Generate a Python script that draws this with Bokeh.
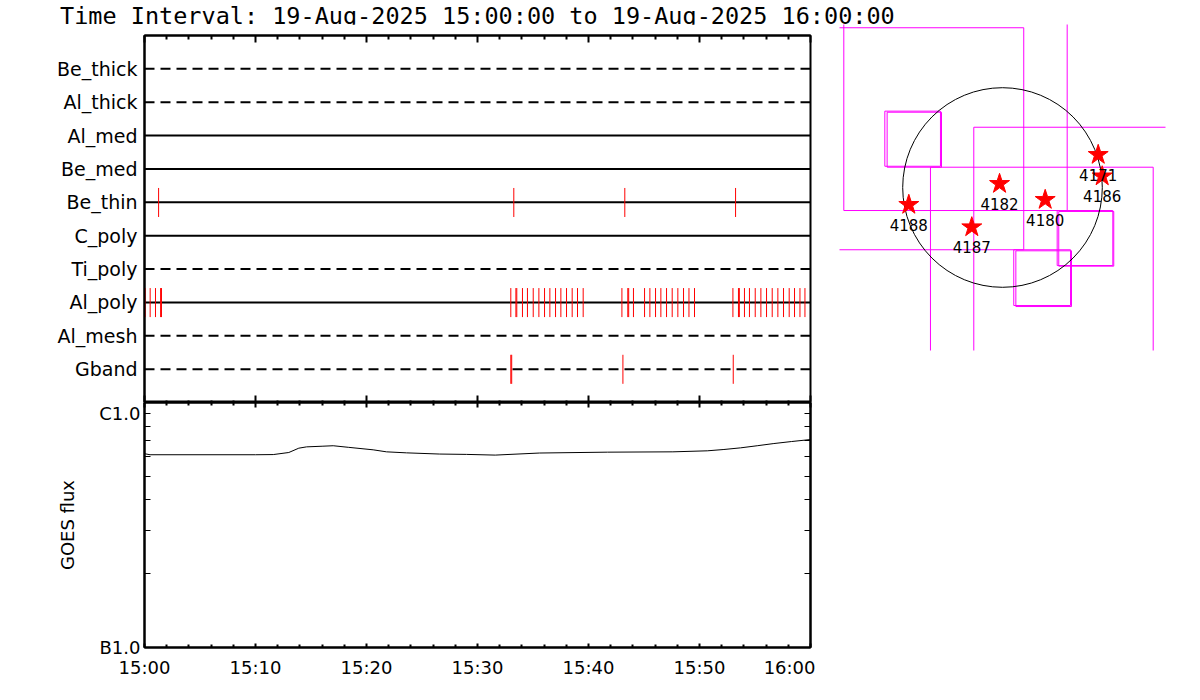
from bokeh.plotting import figure
from bokeh.models import (Range1d, FixedTicker, LinearAxis, LogAxis, Div,
                          CustomLabelingPolicy)
from bokeh.layouts import row, column
from bokeh.embed import file_html
from bokeh.resources import INLINE
from bokeh.core.properties import value

FONT = "DejaVu Sans"
TITLE_FONT = "DejaVu Sans Mono"

# ---------------- data ----------------
title_text = "Time Interval: 19-Aug-2025 15:00:00 to 19-Aug-2025 16:00:00"

filters = ["Be_thick", "Al_thick", "Al_med", "Be_med", "Be_thin",
           "C_poly", "Ti_poly", "Al_poly", "Al_mesh", "Gband"]
dashed_filters = ["Be_thick", "Al_thick", "Ti_poly", "Al_mesh", "Gband"]

# exposure times, minutes after 15:00
be_thin_times = [1.27, 33.27, 43.27, 53.25]
al_poly_times = [0.06, 0.51, 0.99, 1.45, 1.53,
                 33.0, 33.46, 33.54, 34.05, 34.5, 35.02, 35.53, 36.04, 36.52,
                 37.03, 37.51, 38.02, 38.53, 39.01, 39.52,
                 43.01, 43.54, 43.62, 44.05, 45.05, 45.53, 46.04, 46.52, 47.03,
                 47.54, 48.05, 48.56, 49.05, 49.55,
                 53.01, 53.51, 53.59, 54.05, 54.5, 55.02, 55.53, 56.04, 56.55,
                 57.06, 57.57, 58.08, 58.56, 59.05, 59.5]
gband_times = [33.0, 33.08, 43.1, 53.04]

tick_minutes = [0, 10, 20, 30, 40, 50, 60]
tick_labels = ["15:00", "15:10", "15:20", "15:30", "15:40", "15:50", "16:00"]
minor_minutes = [m for m in range(0, 61, 2) if m % 10 != 0]

goes_minutes = [0, 0.5, 5, 10, 11.6, 13.0, 13.9, 14.6, 16.0, 17.0, 18.4, 20.6,
                21.8, 23.6, 26.6, 29.0, 31.6, 35.6, 41.7, 47.6, 50.7, 52.2,
                53.7, 55.2, 56.7, 58.3, 60]
goes_flux = [6.18e-7, 6.12e-7, 6.12e-7, 6.12e-7, 6.13e-7, 6.25e-7, 6.51e-7,
             6.59e-7, 6.63e-7, 6.66e-7, 6.56e-7, 6.41e-7, 6.29e-7, 6.23e-7,
             6.16e-7, 6.14e-7, 6.10e-7, 6.22e-7, 6.27e-7, 6.29e-7, 6.35e-7,
             6.43e-7, 6.53e-7, 6.66e-7, 6.80e-7, 6.93e-7, 7.06e-7]
goes_ticks = [1e-7, 1e-6]
goes_tick_labels = ["B1.0", "C1.0"]
goes_minor = [2e-7, 3e-7, 4e-7, 5e-7, 6e-7, 7e-7, 8e-7, 9e-7]

# solar map (arcsec)
sun_radius = 949
region_names = ["4188", "4187", "4182", "4180", "4171", "4186"]
region_x = [-891, -292, -28, 406, 910, 948]
region_y = [-164, -377, 35, -117, 311, 107]

fov_left = [-2500, -1509, -273, -685, -1119, -1097, 107, 127, 520, 535]
fov_right = [202, 615, 2500, 1433, -590, -580, 647, 656, 1049, 1058]
fov_bottom = [-592, -219, -2500, -2500, 202, 193, -1122, -1132, -742, -748]
fov_top = [1519, 2500, 573, 193, 726, 716, -592, -602, -219, -228]


def no_labels(ax):
    ax.major_label_policy = CustomLabelingPolicy(code="return []")
    ax.major_label_text_font_size = "1px"
    ax.major_label_text_color = None
    ax.major_label_standoff = 0
    return ax


# ---------------- title ----------------
title = Div(text=title_text, width=1180, height=24, margin=0,
            styles={"font-family": TITLE_FONT, "font-size": "23.5px",
                    "line-height": "32px", "padding-left": "60px",
                    "white-space": "nowrap", "color": "black"})

# ---------------- top panel: filter timeline ----------------
n = len(filters)
row_y = {f: n - i for i, f in enumerate(filters)}

p1 = figure(frame_width=666, frame_height=367,
            x_range=Range1d(0, 60), y_range=Range1d(0, n + 1),
            output_backend="svg", toolbar_location=None,
            x_axis_location=None, y_axis_location=None,
            min_border_left=144, min_border_right=5,
            min_border_top=11, min_border_bottom=0)
p1.grid.visible = False
p1.outline_line_color = "black"
p1.outline_line_width = 2

for f in filters:
    p1.segment(x0=[0], x1=[60], y0=[row_y[f]], y1=[row_y[f]],
               line_color="black", line_width=2,
               line_dash="10 6" if f in dashed_filters else "solid")

for f, times in (("Be_thin", be_thin_times), ("Al_poly", al_poly_times),
                 ("Gband", gband_times)):
    y = row_y[f]
    p1.segment(x0=times, x1=times, y0=[y - 0.44] * len(times),
               y1=[y + 0.43] * len(times), line_color="red", line_width=1)

yax = LinearAxis(ticker=FixedTicker(ticks=[row_y[f] for f in filters]),
                 major_label_overrides={row_y[f]: f for f in filters},
                 major_tick_in=0, major_tick_out=0, minor_tick_in=0, minor_tick_out=0,
                 axis_line_width=2, major_label_standoff=7,
                 major_label_text_font=FONT, major_label_text_font_size="19px",
                 major_label_text_color="black")
p1.add_layout(yax, "left")


def time_axis(tick_in, minor_in, labels):
    ax = LinearAxis(ticker=FixedTicker(ticks=tick_minutes, minor_ticks=minor_minutes),
                    major_tick_in=tick_in, major_tick_out=0,
                    minor_tick_in=minor_in, minor_tick_out=0,
                    major_tick_line_width=2, minor_tick_line_width=2,
                    axis_line_width=2)
    if labels:
        ax.major_label_overrides = {m: s for m, s in zip(tick_minutes, tick_labels)}
        ax.major_label_text_font = FONT
        ax.major_label_text_font_size = "18px"
        ax.major_label_text_color = "black"
        ax.major_label_standoff = 9
    else:
        no_labels(ax)
    return ax


p1.add_layout(time_axis(7, 4, False), "above")
p1.add_layout(time_axis(7, 2, False), "below")

# ---------------- GOES panel ----------------
p2 = figure(frame_width=666, frame_height=245,
            x_range=Range1d(0, 60), y_range=Range1d(1e-7, 1e-6),
            y_axis_type="log",
            output_backend="svg", toolbar_location=None,
            x_axis_location=None, y_axis_location=None,
            min_border_left=144, min_border_right=5,
            min_border_top=0, min_border_bottom=40)
p2.grid.visible = False
p2.outline_line_color = "black"
p2.outline_line_width = 2

p2.line(goes_minutes, goes_flux, line_color="black", line_width=1)

lax = LogAxis(ticker=FixedTicker(ticks=goes_ticks, minor_ticks=goes_minor),
              major_label_overrides={v: s for v, s in zip(goes_ticks, goes_tick_labels)},
              major_tick_in=6, major_tick_out=0, minor_tick_in=6, minor_tick_out=0,
              axis_line_width=2, major_label_standoff=4,
              major_label_text_font=FONT, major_label_text_font_size="18px",
              major_label_text_color="black",
              axis_label="GOES flux", axis_label_text_font=FONT,
              axis_label_text_font_size="18px", axis_label_text_font_style="normal",
              axis_label_standoff=18, axis_label_text_color="black")
p2.add_layout(lax, "left")
rax = no_labels(LogAxis(ticker=FixedTicker(ticks=goes_ticks, minor_ticks=goes_minor),
                        major_tick_in=6, major_tick_out=0, minor_tick_in=6,
                        minor_tick_out=0, axis_line_width=2))
p2.add_layout(rax, "right")
p2.add_layout(time_axis(5, 3, False), "above")
p2.add_layout(time_axis(4, 3, True), "below")

# ---------------- solar map ----------------
p3 = figure(frame_width=326, frame_height=326,
            x_range=Range1d(-1550, 1550), y_range=Range1d(-1550, 1550),
            output_backend="svg", toolbar_location=None,
            x_axis_location=None, y_axis_location=None,
            min_border_left=24, min_border_right=5,
            min_border_top=0, min_border_bottom=5)
p3.grid.visible = False
p3.outline_line_color = None

p3.quad(left=fov_left, right=fov_right, bottom=fov_bottom, top=fov_top,
        fill_color=None, line_color="#ff00ff", line_width=1)
p3.circle(x=[0], y=[0], radius=sun_radius, fill_color=None,
          line_color="black", line_width=1)
p3.scatter(region_x, region_y, marker="star", size=21,
           fill_color="red", line_color="red")
p3.text(region_x, region_y, text=region_names, y_offset=20,
        text_align="center", text_baseline="middle",
        text_font=value(FONT), text_font_size="15px", text_color="black")

layout = column(title, row(column(p1, p2), p3))
open("out.html", "w").write(file_html(layout, INLINE))
